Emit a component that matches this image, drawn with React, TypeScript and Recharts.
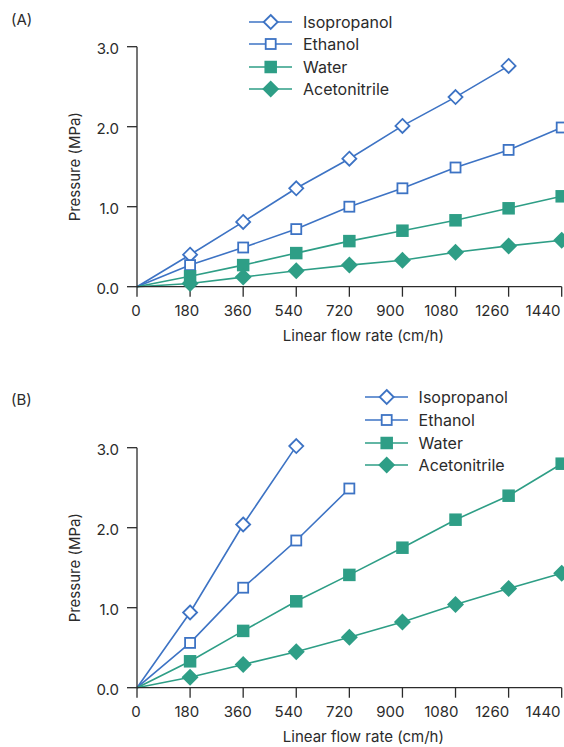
import { LineChart, Line, XAxis, YAxis, Legend } from "recharts";

// flow rate (cm/h) and pressure (MPa)
const flowRates = [0, 180, 360, 540, 720, 900, 1080, 1260, 1440];
const xTicks = [0, 180, 360, 540, 720, 900, 1080, 1260, 1440];
const yTicks = [0, 1, 2, 3];

const isopropanolA = [0, 0.4, 0.81, 1.23, 1.6, 2.01, 2.37, 2.76, null];
const ethanolA = [0, 0.27, 0.49, 0.72, 1.0, 1.23, 1.49, 1.71, 1.99];
const waterA = [0, 0.13, 0.27, 0.42, 0.57, 0.7, 0.83, 0.98, 1.13];
const acetonitrileA = [0, 0.04, 0.12, 0.2, 0.27, 0.33, 0.43, 0.51, 0.58];

const isopropanolB = [0, 0.94, 2.04, 3.02, null, null, null, null, null];
const ethanolB = [0, 0.56, 1.25, 1.84, 2.49, null, null, null, null];
const waterB = [0, 0.33, 0.71, 1.08, 1.41, 1.75, 2.1, 2.4, 2.8];
const acetonitrileB = [0, 0.13, 0.29, 0.45, 0.63, 0.82, 1.04, 1.24, 1.43];

const BLUE = "#3d73c4";
const GREEN = "#2e9e86";
const INK = "#2b2b2b";
const FONT = "Inter, Roboto, sans-serif";

const SERIES = [
  { key: "isopropanol", name: "Isopropanol", color: BLUE, shape: "diamondOpen" },
  { key: "ethanol", name: "Ethanol", color: BLUE, shape: "squareOpen" },
  { key: "water", name: "Water", color: GREEN, shape: "squareFilled" },
  { key: "acetonitrile", name: "Acetonitrile", color: GREEN, shape: "diamondFilled" },
];

const buildRows = (iso, eth, wat, ace) =>
  flowRates.map((rate, i) => ({
    rate,
    isopropanol: iso[i],
    ethanol: eth[i],
    water: wat[i],
    acetonitrile: ace[i],
  }));

const dataA = buildRows(isopropanolA, ethanolA, waterA, acetonitrileA);
const dataB = buildRows(isopropanolB, ethanolB, waterB, acetonitrileB);

function Marker({ shape, cx, cy, color }) {
  if (shape === "diamondOpen") {
    const r = 7;
    return (
      <polygon
        points={`${cx},${cy - r} ${cx + r},${cy} ${cx},${cy + r} ${cx - r},${cy}`}
        fill="#fff"
        stroke={color}
        strokeWidth={1.8}
      />
    );
  }
  if (shape === "squareOpen") {
    const s = 10;
    return <rect x={cx - s / 2} y={cy - s / 2} width={s} height={s} fill="#fff" stroke={color} strokeWidth={1.8} />;
  }
  if (shape === "squareFilled") {
    const s = 12.5;
    return <rect x={cx - s / 2} y={cy - s / 2} width={s} height={s} fill={color} />;
  }
  const r = 8.5;
  return <polygon points={`${cx},${cy - r} ${cx + r},${cy} ${cx},${cy + r} ${cx - r},${cy}`} fill={color} />;
}

const makeDot = (shape, color) => (props) => {
  const { cx, cy, index, payload, value } = props;
  if (cx == null || cy == null || value == null || payload.rate === 0) {
    return <g key={`${shape}-${index}`} />;
  }
  return (
    <g key={`${shape}-${index}`}>
      <Marker shape={shape} cx={cx} cy={cy} color={color} />
    </g>
  );
};

const renderLegend = () => (
  <div style={{ fontFamily: FONT, fontSize: 16, color: INK }}>
    {SERIES.map((s) => (
      <div key={s.key} style={{ display: "flex", alignItems: "center", height: 22.6 }}>
        <svg width={44} height={22} style={{ display: "block" }}>
          <line x1={0} x2={43} y1={11} y2={11} stroke={s.color} strokeWidth={1.6} />
          <Marker shape={s.shape} cx={21.7} cy={11} color={s.color} />
        </svg>
        <span style={{ marginLeft: 10, lineHeight: "22px" }}>{s.name}</span>
      </div>
    ))}
  </div>
);

// the printed tick labels sit on a slightly tighter spacing than the tick marks
const XTick = ({ x, y, payload }) => (
  <text
    x={x - 1 - (payload.value / 180) * 2.2}
    y={y}
    dy="0.71em"
    textAnchor="middle"
    fill={INK}
    fontSize={15}
    fontFamily={FONT}
  >
    {payload.value}
  </text>
);

const xLabel = ({ viewBox }) => (
  <text
    x={viewBox.x + viewBox.width / 2 + 14}
    y={viewBox.y + 54}
    textAnchor="middle"
    fill={INK}
    fontSize={15}
    fontFamily={FONT}
  >
    Linear flow rate (cm/h)
  </text>
);

function Panel({ tag, data, top, height, marginTop, legendPos }) {
  return (
    <div style={{ position: "absolute", left: 0, top }}>
      <div style={{ position: "absolute", left: 11, top: 10, fontFamily: FONT, fontSize: 15, color: INK, zIndex: 2 }}>
        {tag}
      </div>
      <LineChart
        width={620}
        height={height}
        data={data}
        margin={{ top: marginTop, right: 58.3, left: 73, bottom: height - marginTop - 240 - 60 }}
      >
        <XAxis
          dataKey="rate"
          type="number"
          domain={[0, 1440]}
          ticks={xTicks}
          interval={0}
          height={60}
          stroke={INK}
          strokeWidth={1.3}
          tickSize={10}
          tickMargin={9}
          tick={<XTick />}
          label={{ content: xLabel }}
        />
        <YAxis
          type="number"
          domain={[0, 3]}
          allowDataOverflow
          ticks={yTicks}
          interval={0}
          width={64}
          stroke={INK}
          strokeWidth={1.3}
          tickSize={10}
          tickMargin={8}
          tickFormatter={(v) => v.toFixed(1)}
          tick={{ fill: INK, fontSize: 15, fontFamily: FONT, dy: 2 }}
          label={{
            value: "Pressure (MPa)",
            angle: -90,
            position: "insideLeft",
            offset: 2,
            style: { textAnchor: "middle", fill: INK, fontSize: 15, fontFamily: FONT },
          }}
        />
        <Legend
          layout="vertical"
          align="center"
          verticalAlign="middle"
          content={renderLegend}
          wrapperStyle={{ top: legendPos.top, left: legendPos.left, width: "auto" }}
        />
        {SERIES.map((s) => (
          <Line
            key={s.key}
            dataKey={s.key}
            name={s.name}
            stroke={s.color}
            strokeWidth={1.6}
            dot={makeDot(s.shape, s.color)}
            activeDot={false}
            isAnimationActive={false}
          />
        ))}
      </LineChart>
    </div>
  );
}

export default function App() {
  return (
    <div
      style={{
        position: "absolute",
        left: 0,
        top: 0,
        width: 564,
        height: 747,
        overflow: "hidden",
        background: "#fff",
      }}
    >
      <style>{`[clip-path] { clip-path: none !important; }`}</style>
      <Panel tag="(A)" data={dataA} top={0} height={360} marginTop={46.7} legendPos={{ left: 249, top: 10.4 }} />
      <Panel tag="(B)" data={dataB} top={380} height={380} marginTop={67.7} legendPos={{ left: 364.6, top: 6.2 }} />
    </div>
  );
}
